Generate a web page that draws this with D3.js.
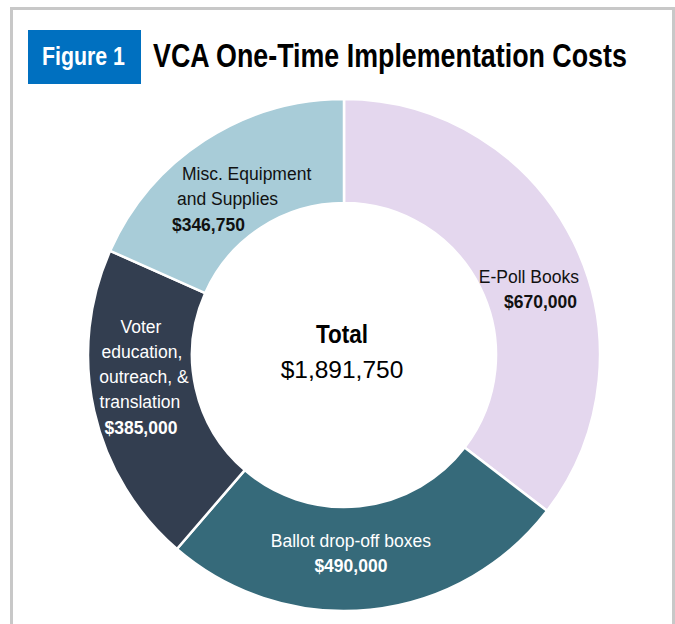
<!DOCTYPE html>
<html>
<head>
<meta charset="utf-8">
<script src="https://cdn.jsdelivr.net/npm/d3@7"></script>
<style>
	body { margin: 0; background: #fff; }
	svg { display: block; }
</style>
</head>
<body>
<svg id="chart" width="675" height="624"></svg>
<script>
// data
var categories = ["E-Poll Books", "Ballot drop-off boxes", "Voter education, outreach, & translation", "Misc. Equipment and Supplies"];
var costs = [670000, 490000, 385000, 346750];
var labelLines = [
	["E-Poll Books"],
	["Ballot drop-off boxes"],
	["Voter", "education,", "outreach, &", "translation"],
	["Misc. Equipment", "and Supplies"]
];
var colors = ["#e4d7ee", "#366a7a", "#333e50", "#a8ccd8"];
var textColors = ["#111", "#fff", "#fff", "#111"];

// label placement relative to each slice centroid (x shift per line, y of first line)
var labelLayout = [
	{ anchor: "end", dx: [52, 50], dy: 18 },
	{ anchor: "middle", dx: [-14, -14], dy: -11 },
	{ anchor: "middle", dx: [-4, -3, -1, -5, -4], dy: -67 },
	{ anchor: "start", dx: [-51, -56, -61], dy: -4 }
];

var svg = d3.select("#chart");
var fmt = d3.format("$,");
var total = d3.sum(costs);
// no narrow face installed, so the condensed headings get squeezed to the measured widths
var narrow = "'Liberation Sans Narrow', 'Arial Narrow', 'Liberation Sans', Arial, sans-serif";

function squeeze(sel, x, y, width) {
	var w = sel.node().getComputedTextLength();
	sel.attr("transform", "translate(" + x + "," + y + ") scale(" + (width / w) + ",1)");
}

// outer frame
svg.append("rect")
	.attr("x", 11.5).attr("y", 8.5)
	.attr("width", 662).attr("height", 640)
	.attr("fill", "none")
	.attr("stroke", "#c8c8c8")
	.attr("stroke-width", 3);

// header
svg.append("rect")
	.attr("x", 28).attr("y", 30)
	.attr("width", 113).attr("height", 54)
	.attr("fill", "#0070c0");

var fig = svg.append("text")
	.attr("fill", "#fff")
	.style("font-family", narrow)
	.style("font-weight", "bold")
	.style("font-size", "25px")
	.text("Figure 1");
squeeze(fig, 42, 65, 83);

var title = svg.append("text")
	.attr("fill", "#000")
	.style("font-family", narrow)
	.style("font-weight", "bold")
	.style("font-size", "33px")
	.text("VCA One-Time Implementation Costs");
squeeze(title, 153, 67, 474);

// donut
var cx = 344, cy = 355;
var outerR = 256, innerR = 152;
var g = svg.append("g").attr("transform", "translate(" + cx + "," + cy + ")");

var pie = d3.pie().sort(null).value(function(d) { return d; });
var arc = d3.arc().innerRadius(innerR).outerRadius(outerR);
var arcs = pie(costs);

g.selectAll("path.slice")
	.data(arcs)
	.enter().append("path")
	.attr("class", "slice")
	.attr("d", arc)
	.attr("fill", function(d, i) { return colors[i]; })
	.attr("stroke", "#fff")
	.attr("stroke-width", 2.5);

// slice labels
var lineH = 25.3;
arcs.forEach(function(a, i) {
	var c = arc.centroid(a);
	var lay = labelLayout[i];
	var lines = labelLines[i].concat([fmt(costs[i])]);
	var t = g.append("text")
		.attr("text-anchor", lay.anchor)
		.attr("fill", textColors[i])
		.style("font-family", "'Liberation Sans', Arial, sans-serif")
		.style("font-size", "17.5px");
	lines.forEach(function(l, j) {
		t.append("tspan")
			.attr("x", c[0] + lay.dx[j])
			.attr("y", c[1] + lay.dy + j * lineH)
			.style("font-weight", j == lines.length - 1 ? "bold" : "normal")
			.text(l);
	});
});

// centre total
var tot = g.append("text")
	.attr("fill", "#000")
	.style("font-family", narrow)
	.style("font-weight", "bold")
	.style("font-size", "25px")
	.text("Total");
squeeze(tot, -28, -12, 52);

g.append("text")
	.attr("x", -2).attr("y", 23)
	.attr("text-anchor", "middle")
	.attr("fill", "#000")
	.style("font-family", "'Liberation Sans', Arial, sans-serif")
	.style("font-size", "24.5px")
	.text(fmt(total));
</script>
</body>
</html>
